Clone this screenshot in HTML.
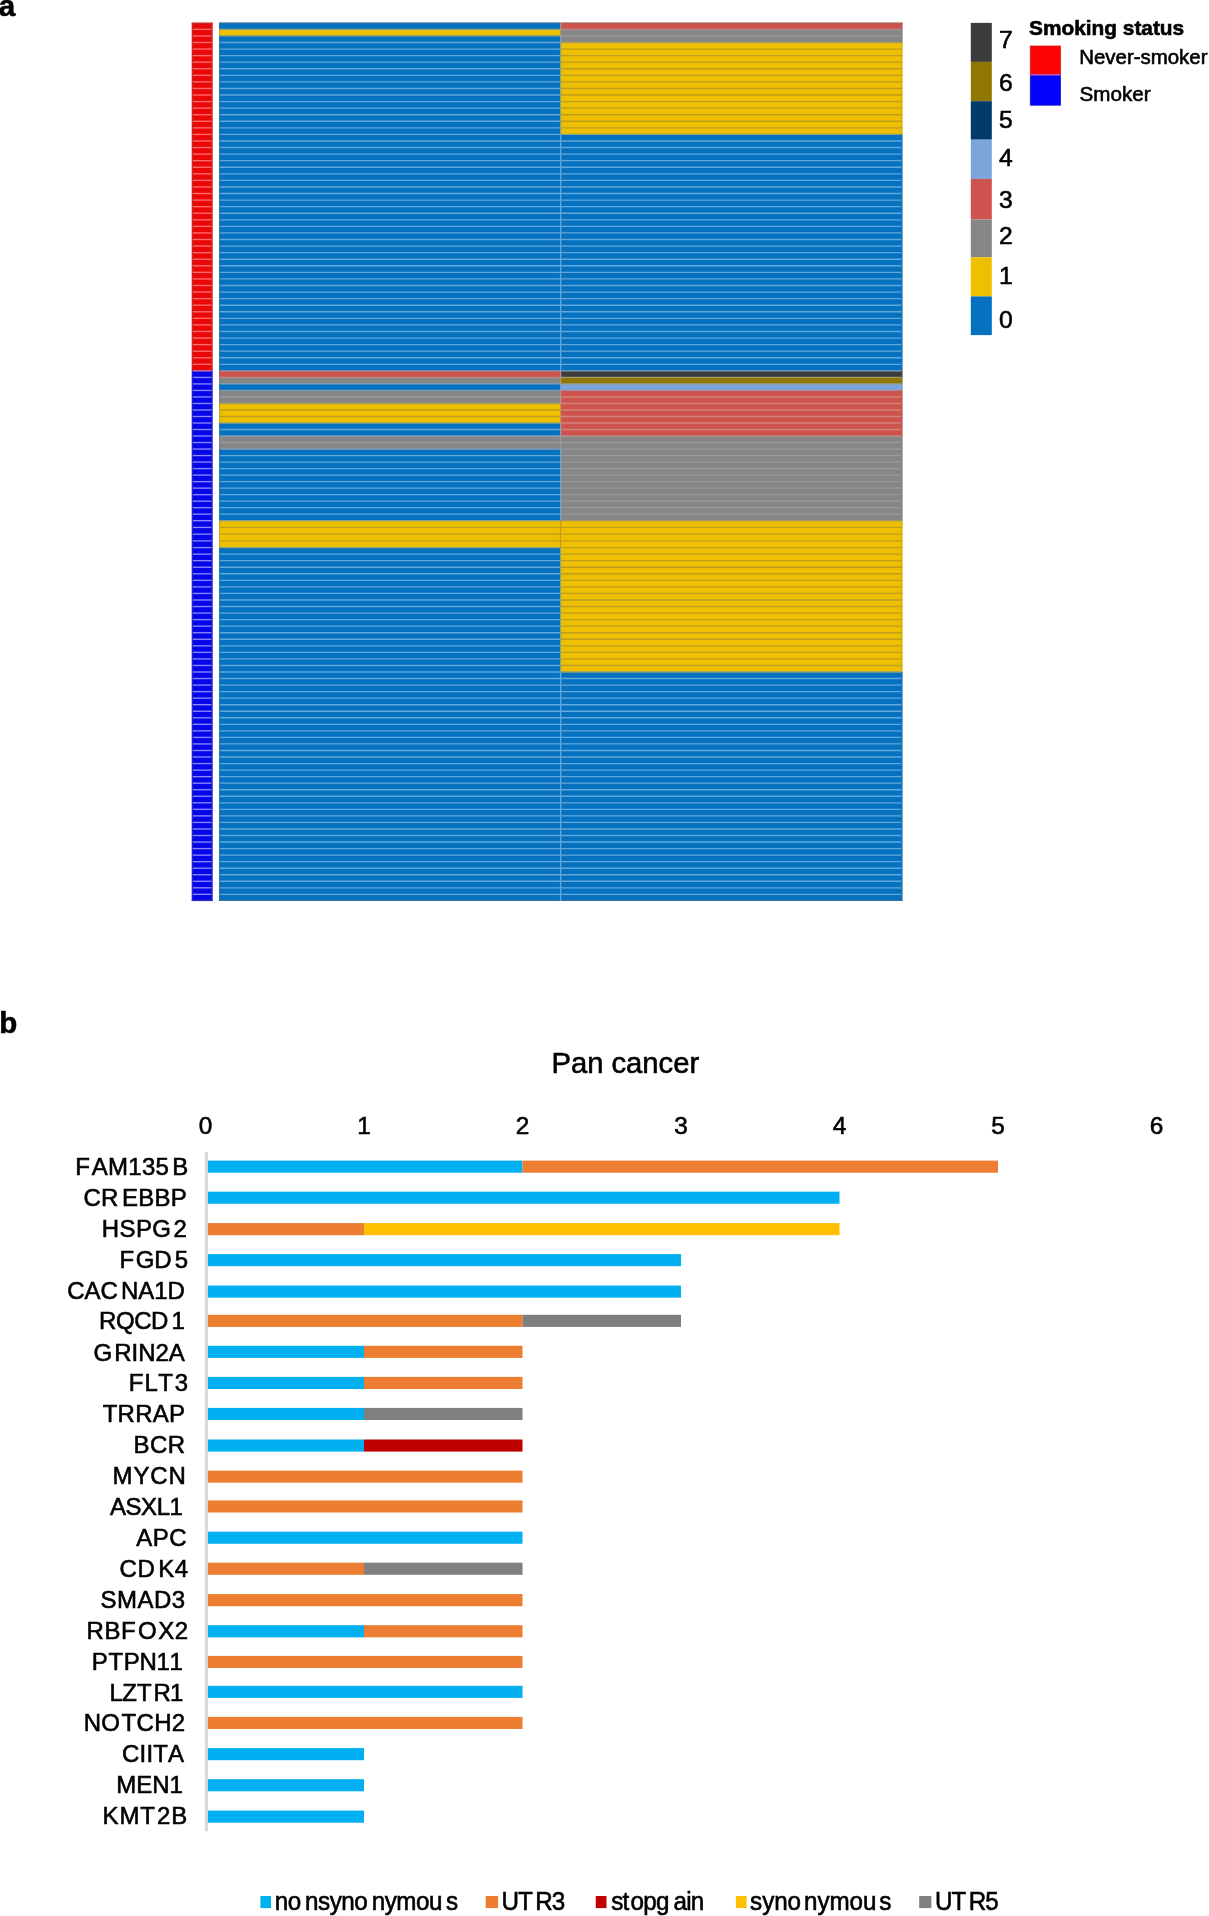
<!DOCTYPE html>
<html><head><meta charset="utf-8"><title>figure</title>
<style>
html,body{margin:0;padding:0;background:#fff;}
body{width:1209px;height:1916px;overflow:hidden;position:relative;}
svg{position:absolute;left:0;top:0;display:block;}
text{font-family:"Liberation Sans",sans-serif;fill:#000;font-kerning:none;stroke:#000;stroke-width:0.6px;}
#txt{filter:grayscale(1) blur(0.4px);}
#gfx{filter:blur(0.4px);}
</style></head>
<body>
<svg width="1209" height="1916" viewBox="0 0 1209 1916">
<rect x="0" y="0" width="1209" height="1916" fill="#ffffff"/>
<g id="gfx">
<rect x="191.80" y="22.80" width="20.70" height="348.10" fill="#EA0909"/>
<rect x="191.80" y="370.90" width="20.70" height="530.00" fill="#0606E6"/>
<rect x="219.10" y="22.80" width="341.50" height="6.56" fill="#0671BF"/>
<rect x="219.10" y="29.36" width="341.50" height="6.56" fill="#EFC000"/>
<rect x="219.10" y="35.93" width="341.50" height="334.97" fill="#0671BF"/>
<rect x="219.10" y="370.90" width="341.50" height="6.51" fill="#CD534C"/>
<rect x="219.10" y="377.41" width="341.50" height="6.51" fill="#868686"/>
<rect x="219.10" y="383.93" width="341.50" height="6.51" fill="#0671BF"/>
<rect x="219.10" y="390.44" width="341.50" height="13.03" fill="#868686"/>
<rect x="219.10" y="403.47" width="341.50" height="19.54" fill="#EFC000"/>
<rect x="219.10" y="423.00" width="341.50" height="13.03" fill="#0671BF"/>
<rect x="219.10" y="436.03" width="341.50" height="13.03" fill="#868686"/>
<rect x="219.10" y="449.06" width="341.50" height="71.64" fill="#0671BF"/>
<rect x="219.10" y="520.70" width="341.50" height="26.90" fill="#EFC000"/>
<rect x="219.10" y="547.60" width="341.50" height="353.30" fill="#0671BF"/>
<rect x="560.60" y="22.80" width="341.80" height="6.56" fill="#CD534C"/>
<rect x="560.60" y="29.36" width="341.80" height="13.13" fill="#868686"/>
<rect x="560.60" y="42.49" width="341.80" height="91.91" fill="#EFC000"/>
<rect x="560.60" y="134.40" width="341.80" height="236.50" fill="#0671BF"/>
<rect x="560.60" y="370.90" width="341.80" height="6.51" fill="#3B3B3B"/>
<rect x="560.60" y="377.41" width="341.80" height="6.51" fill="#8F7700"/>
<rect x="560.60" y="383.93" width="341.80" height="6.51" fill="#7AA6DC"/>
<rect x="560.60" y="390.44" width="341.80" height="45.59" fill="#CD534C"/>
<rect x="560.60" y="436.03" width="341.80" height="84.67" fill="#868686"/>
<rect x="560.60" y="520.70" width="341.80" height="151.30" fill="#EFC000"/>
<rect x="560.60" y="672.00" width="341.80" height="228.90" fill="#0671BF"/>
<line x1="191.80" y1="23.35" x2="212.50" y2="23.35" stroke="#c42b2b" stroke-width="1.4850000000000003"/>
<line x1="191.80" y1="29.36" x2="212.50" y2="29.36" stroke="#ff6c6c" stroke-width="1.35"/>
<line x1="191.80" y1="35.93" x2="212.50" y2="35.93" stroke="#ff6c6c" stroke-width="1.35"/>
<line x1="191.80" y1="42.49" x2="212.50" y2="42.49" stroke="#ff6c6c" stroke-width="1.35"/>
<line x1="191.80" y1="49.06" x2="212.50" y2="49.06" stroke="#ff6c6c" stroke-width="1.35"/>
<line x1="191.80" y1="55.62" x2="212.50" y2="55.62" stroke="#ff6c6c" stroke-width="1.35"/>
<line x1="191.80" y1="62.19" x2="212.50" y2="62.19" stroke="#ff6c6c" stroke-width="1.35"/>
<line x1="191.80" y1="68.75" x2="212.50" y2="68.75" stroke="#ff6c6c" stroke-width="1.35"/>
<line x1="191.80" y1="75.32" x2="212.50" y2="75.32" stroke="#ff6c6c" stroke-width="1.35"/>
<line x1="191.80" y1="81.88" x2="212.50" y2="81.88" stroke="#ff6c6c" stroke-width="1.35"/>
<line x1="191.80" y1="88.45" x2="212.50" y2="88.45" stroke="#ff6c6c" stroke-width="1.35"/>
<line x1="191.80" y1="95.01" x2="212.50" y2="95.01" stroke="#ff6c6c" stroke-width="1.35"/>
<line x1="191.80" y1="101.58" x2="212.50" y2="101.58" stroke="#ff6c6c" stroke-width="1.35"/>
<line x1="191.80" y1="108.14" x2="212.50" y2="108.14" stroke="#ff6c6c" stroke-width="1.35"/>
<line x1="191.80" y1="114.71" x2="212.50" y2="114.71" stroke="#ff6c6c" stroke-width="1.35"/>
<line x1="191.80" y1="121.27" x2="212.50" y2="121.27" stroke="#ff6c6c" stroke-width="1.35"/>
<line x1="191.80" y1="127.84" x2="212.50" y2="127.84" stroke="#ff6c6c" stroke-width="1.35"/>
<line x1="191.80" y1="134.40" x2="212.50" y2="134.40" stroke="#ff6c6c" stroke-width="1.35"/>
<line x1="191.80" y1="140.97" x2="212.50" y2="140.97" stroke="#ff6c6c" stroke-width="1.35"/>
<line x1="191.80" y1="147.54" x2="212.50" y2="147.54" stroke="#ff6c6c" stroke-width="1.35"/>
<line x1="191.80" y1="154.11" x2="212.50" y2="154.11" stroke="#ff6c6c" stroke-width="1.35"/>
<line x1="191.80" y1="160.68" x2="212.50" y2="160.68" stroke="#ff6c6c" stroke-width="1.35"/>
<line x1="191.80" y1="167.25" x2="212.50" y2="167.25" stroke="#ff6c6c" stroke-width="1.35"/>
<line x1="191.80" y1="173.82" x2="212.50" y2="173.82" stroke="#ff6c6c" stroke-width="1.35"/>
<line x1="191.80" y1="180.39" x2="212.50" y2="180.39" stroke="#ff6c6c" stroke-width="1.35"/>
<line x1="191.80" y1="186.96" x2="212.50" y2="186.96" stroke="#ff6c6c" stroke-width="1.35"/>
<line x1="191.80" y1="193.52" x2="212.50" y2="193.52" stroke="#ff6c6c" stroke-width="1.35"/>
<line x1="191.80" y1="200.09" x2="212.50" y2="200.09" stroke="#ff6c6c" stroke-width="1.35"/>
<line x1="191.80" y1="206.66" x2="212.50" y2="206.66" stroke="#ff6c6c" stroke-width="1.35"/>
<line x1="191.80" y1="213.23" x2="212.50" y2="213.23" stroke="#ff6c6c" stroke-width="1.35"/>
<line x1="191.80" y1="219.80" x2="212.50" y2="219.80" stroke="#ff6c6c" stroke-width="1.35"/>
<line x1="191.80" y1="226.37" x2="212.50" y2="226.37" stroke="#ff6c6c" stroke-width="1.35"/>
<line x1="191.80" y1="232.94" x2="212.50" y2="232.94" stroke="#ff6c6c" stroke-width="1.35"/>
<line x1="191.80" y1="239.51" x2="212.50" y2="239.51" stroke="#ff6c6c" stroke-width="1.35"/>
<line x1="191.80" y1="246.08" x2="212.50" y2="246.08" stroke="#ff6c6c" stroke-width="1.35"/>
<line x1="191.80" y1="252.65" x2="212.50" y2="252.65" stroke="#ff6c6c" stroke-width="1.35"/>
<line x1="191.80" y1="259.22" x2="212.50" y2="259.22" stroke="#ff6c6c" stroke-width="1.35"/>
<line x1="191.80" y1="265.79" x2="212.50" y2="265.79" stroke="#ff6c6c" stroke-width="1.35"/>
<line x1="191.80" y1="272.36" x2="212.50" y2="272.36" stroke="#ff6c6c" stroke-width="1.35"/>
<line x1="191.80" y1="278.93" x2="212.50" y2="278.93" stroke="#ff6c6c" stroke-width="1.35"/>
<line x1="191.80" y1="285.50" x2="212.50" y2="285.50" stroke="#ff6c6c" stroke-width="1.35"/>
<line x1="191.80" y1="292.07" x2="212.50" y2="292.07" stroke="#ff6c6c" stroke-width="1.35"/>
<line x1="191.80" y1="298.64" x2="212.50" y2="298.64" stroke="#ff6c6c" stroke-width="1.35"/>
<line x1="191.80" y1="305.21" x2="212.50" y2="305.21" stroke="#ff6c6c" stroke-width="1.35"/>
<line x1="191.80" y1="311.77" x2="212.50" y2="311.77" stroke="#ff6c6c" stroke-width="1.35"/>
<line x1="191.80" y1="318.34" x2="212.50" y2="318.34" stroke="#ff6c6c" stroke-width="1.35"/>
<line x1="191.80" y1="324.91" x2="212.50" y2="324.91" stroke="#ff6c6c" stroke-width="1.35"/>
<line x1="191.80" y1="331.48" x2="212.50" y2="331.48" stroke="#ff6c6c" stroke-width="1.35"/>
<line x1="191.80" y1="338.05" x2="212.50" y2="338.05" stroke="#ff6c6c" stroke-width="1.35"/>
<line x1="191.80" y1="344.62" x2="212.50" y2="344.62" stroke="#ff6c6c" stroke-width="1.35"/>
<line x1="191.80" y1="351.19" x2="212.50" y2="351.19" stroke="#ff6c6c" stroke-width="1.35"/>
<line x1="191.80" y1="357.76" x2="212.50" y2="357.76" stroke="#ff6c6c" stroke-width="1.35"/>
<line x1="191.80" y1="364.33" x2="212.50" y2="364.33" stroke="#ff6c6c" stroke-width="1.35"/>
<line x1="191.80" y1="370.90" x2="212.50" y2="370.90" stroke="#c57ac5" stroke-width="1.35"/>
<line x1="191.80" y1="377.41" x2="212.50" y2="377.41" stroke="#8888ff" stroke-width="1.35"/>
<line x1="191.80" y1="383.93" x2="212.50" y2="383.93" stroke="#8888ff" stroke-width="1.35"/>
<line x1="191.80" y1="390.44" x2="212.50" y2="390.44" stroke="#8888ff" stroke-width="1.35"/>
<line x1="191.80" y1="396.95" x2="212.50" y2="396.95" stroke="#8888ff" stroke-width="1.35"/>
<line x1="191.80" y1="403.47" x2="212.50" y2="403.47" stroke="#8888ff" stroke-width="1.35"/>
<line x1="191.80" y1="409.98" x2="212.50" y2="409.98" stroke="#8888ff" stroke-width="1.35"/>
<line x1="191.80" y1="416.49" x2="212.50" y2="416.49" stroke="#8888ff" stroke-width="1.35"/>
<line x1="191.80" y1="423.00" x2="212.50" y2="423.00" stroke="#8888ff" stroke-width="1.35"/>
<line x1="191.80" y1="429.52" x2="212.50" y2="429.52" stroke="#8888ff" stroke-width="1.35"/>
<line x1="191.80" y1="436.03" x2="212.50" y2="436.03" stroke="#8888ff" stroke-width="1.35"/>
<line x1="191.80" y1="442.54" x2="212.50" y2="442.54" stroke="#8888ff" stroke-width="1.35"/>
<line x1="191.80" y1="449.06" x2="212.50" y2="449.06" stroke="#8888ff" stroke-width="1.35"/>
<line x1="191.80" y1="455.57" x2="212.50" y2="455.57" stroke="#8888ff" stroke-width="1.35"/>
<line x1="191.80" y1="462.08" x2="212.50" y2="462.08" stroke="#8888ff" stroke-width="1.35"/>
<line x1="191.80" y1="468.60" x2="212.50" y2="468.60" stroke="#8888ff" stroke-width="1.35"/>
<line x1="191.80" y1="475.11" x2="212.50" y2="475.11" stroke="#8888ff" stroke-width="1.35"/>
<line x1="191.80" y1="481.62" x2="212.50" y2="481.62" stroke="#8888ff" stroke-width="1.35"/>
<line x1="191.80" y1="488.13" x2="212.50" y2="488.13" stroke="#8888ff" stroke-width="1.35"/>
<line x1="191.80" y1="494.65" x2="212.50" y2="494.65" stroke="#8888ff" stroke-width="1.35"/>
<line x1="191.80" y1="501.16" x2="212.50" y2="501.16" stroke="#8888ff" stroke-width="1.35"/>
<line x1="191.80" y1="507.67" x2="212.50" y2="507.67" stroke="#8888ff" stroke-width="1.35"/>
<line x1="191.80" y1="514.19" x2="212.50" y2="514.19" stroke="#8888ff" stroke-width="1.35"/>
<line x1="191.80" y1="520.70" x2="212.50" y2="520.70" stroke="#8888ff" stroke-width="1.35"/>
<line x1="191.80" y1="527.43" x2="212.50" y2="527.43" stroke="#8888ff" stroke-width="1.35"/>
<line x1="191.80" y1="534.15" x2="212.50" y2="534.15" stroke="#8888ff" stroke-width="1.35"/>
<line x1="191.80" y1="540.88" x2="212.50" y2="540.88" stroke="#8888ff" stroke-width="1.35"/>
<line x1="191.80" y1="547.60" x2="212.50" y2="547.60" stroke="#8888ff" stroke-width="1.35"/>
<line x1="191.80" y1="554.15" x2="212.50" y2="554.15" stroke="#8888ff" stroke-width="1.35"/>
<line x1="191.80" y1="560.69" x2="212.50" y2="560.69" stroke="#8888ff" stroke-width="1.35"/>
<line x1="191.80" y1="567.24" x2="212.50" y2="567.24" stroke="#8888ff" stroke-width="1.35"/>
<line x1="191.80" y1="573.79" x2="212.50" y2="573.79" stroke="#8888ff" stroke-width="1.35"/>
<line x1="191.80" y1="580.34" x2="212.50" y2="580.34" stroke="#8888ff" stroke-width="1.35"/>
<line x1="191.80" y1="586.88" x2="212.50" y2="586.88" stroke="#8888ff" stroke-width="1.35"/>
<line x1="191.80" y1="593.43" x2="212.50" y2="593.43" stroke="#8888ff" stroke-width="1.35"/>
<line x1="191.80" y1="599.98" x2="212.50" y2="599.98" stroke="#8888ff" stroke-width="1.35"/>
<line x1="191.80" y1="606.53" x2="212.50" y2="606.53" stroke="#8888ff" stroke-width="1.35"/>
<line x1="191.80" y1="613.07" x2="212.50" y2="613.07" stroke="#8888ff" stroke-width="1.35"/>
<line x1="191.80" y1="619.62" x2="212.50" y2="619.62" stroke="#8888ff" stroke-width="1.35"/>
<line x1="191.80" y1="626.17" x2="212.50" y2="626.17" stroke="#8888ff" stroke-width="1.35"/>
<line x1="191.80" y1="632.72" x2="212.50" y2="632.72" stroke="#8888ff" stroke-width="1.35"/>
<line x1="191.80" y1="639.26" x2="212.50" y2="639.26" stroke="#8888ff" stroke-width="1.35"/>
<line x1="191.80" y1="645.81" x2="212.50" y2="645.81" stroke="#8888ff" stroke-width="1.35"/>
<line x1="191.80" y1="652.36" x2="212.50" y2="652.36" stroke="#8888ff" stroke-width="1.35"/>
<line x1="191.80" y1="658.91" x2="212.50" y2="658.91" stroke="#8888ff" stroke-width="1.35"/>
<line x1="191.80" y1="665.45" x2="212.50" y2="665.45" stroke="#8888ff" stroke-width="1.35"/>
<line x1="191.80" y1="672.00" x2="212.50" y2="672.00" stroke="#8888ff" stroke-width="1.35"/>
<line x1="191.80" y1="678.54" x2="212.50" y2="678.54" stroke="#8888ff" stroke-width="1.35"/>
<line x1="191.80" y1="685.08" x2="212.50" y2="685.08" stroke="#8888ff" stroke-width="1.35"/>
<line x1="191.80" y1="691.62" x2="212.50" y2="691.62" stroke="#8888ff" stroke-width="1.35"/>
<line x1="191.80" y1="698.16" x2="212.50" y2="698.16" stroke="#8888ff" stroke-width="1.35"/>
<line x1="191.80" y1="704.70" x2="212.50" y2="704.70" stroke="#8888ff" stroke-width="1.35"/>
<line x1="191.80" y1="711.24" x2="212.50" y2="711.24" stroke="#8888ff" stroke-width="1.35"/>
<line x1="191.80" y1="717.78" x2="212.50" y2="717.78" stroke="#8888ff" stroke-width="1.35"/>
<line x1="191.80" y1="724.32" x2="212.50" y2="724.32" stroke="#8888ff" stroke-width="1.35"/>
<line x1="191.80" y1="730.86" x2="212.50" y2="730.86" stroke="#8888ff" stroke-width="1.35"/>
<line x1="191.80" y1="737.40" x2="212.50" y2="737.40" stroke="#8888ff" stroke-width="1.35"/>
<line x1="191.80" y1="743.94" x2="212.50" y2="743.94" stroke="#8888ff" stroke-width="1.35"/>
<line x1="191.80" y1="750.48" x2="212.50" y2="750.48" stroke="#8888ff" stroke-width="1.35"/>
<line x1="191.80" y1="757.02" x2="212.50" y2="757.02" stroke="#8888ff" stroke-width="1.35"/>
<line x1="191.80" y1="763.56" x2="212.50" y2="763.56" stroke="#8888ff" stroke-width="1.35"/>
<line x1="191.80" y1="770.10" x2="212.50" y2="770.10" stroke="#8888ff" stroke-width="1.35"/>
<line x1="191.80" y1="776.64" x2="212.50" y2="776.64" stroke="#8888ff" stroke-width="1.35"/>
<line x1="191.80" y1="783.18" x2="212.50" y2="783.18" stroke="#8888ff" stroke-width="1.35"/>
<line x1="191.80" y1="789.72" x2="212.50" y2="789.72" stroke="#8888ff" stroke-width="1.35"/>
<line x1="191.80" y1="796.26" x2="212.50" y2="796.26" stroke="#8888ff" stroke-width="1.35"/>
<line x1="191.80" y1="802.80" x2="212.50" y2="802.80" stroke="#8888ff" stroke-width="1.35"/>
<line x1="191.80" y1="809.34" x2="212.50" y2="809.34" stroke="#8888ff" stroke-width="1.35"/>
<line x1="191.80" y1="815.88" x2="212.50" y2="815.88" stroke="#8888ff" stroke-width="1.35"/>
<line x1="191.80" y1="822.42" x2="212.50" y2="822.42" stroke="#8888ff" stroke-width="1.35"/>
<line x1="191.80" y1="828.96" x2="212.50" y2="828.96" stroke="#8888ff" stroke-width="1.35"/>
<line x1="191.80" y1="835.50" x2="212.50" y2="835.50" stroke="#8888ff" stroke-width="1.35"/>
<line x1="191.80" y1="842.04" x2="212.50" y2="842.04" stroke="#8888ff" stroke-width="1.35"/>
<line x1="191.80" y1="848.58" x2="212.50" y2="848.58" stroke="#8888ff" stroke-width="1.35"/>
<line x1="191.80" y1="855.12" x2="212.50" y2="855.12" stroke="#8888ff" stroke-width="1.35"/>
<line x1="191.80" y1="861.66" x2="212.50" y2="861.66" stroke="#8888ff" stroke-width="1.35"/>
<line x1="191.80" y1="868.20" x2="212.50" y2="868.20" stroke="#8888ff" stroke-width="1.35"/>
<line x1="191.80" y1="874.74" x2="212.50" y2="874.74" stroke="#8888ff" stroke-width="1.35"/>
<line x1="191.80" y1="881.28" x2="212.50" y2="881.28" stroke="#8888ff" stroke-width="1.35"/>
<line x1="191.80" y1="887.82" x2="212.50" y2="887.82" stroke="#8888ff" stroke-width="1.35"/>
<line x1="191.80" y1="894.36" x2="212.50" y2="894.36" stroke="#8888ff" stroke-width="1.35"/>
<line x1="191.80" y1="900.35" x2="212.50" y2="900.35" stroke="#2929c1" stroke-width="1.4850000000000003"/>
<line x1="219.10" y1="23.35" x2="560.60" y2="23.35" stroke="#2972a7" stroke-width="1.4850000000000003"/>
<line x1="219.10" y1="29.36" x2="560.60" y2="29.36" stroke="#8fa37d" stroke-width="1.35"/>
<line x1="219.10" y1="35.93" x2="560.60" y2="35.93" stroke="#8fa37d" stroke-width="1.35"/>
<line x1="219.10" y1="42.49" x2="560.60" y2="42.49" stroke="#61a8dd" stroke-width="1.35"/>
<line x1="219.10" y1="49.06" x2="560.60" y2="49.06" stroke="#61a8dd" stroke-width="1.35"/>
<line x1="219.10" y1="55.62" x2="560.60" y2="55.62" stroke="#61a8dd" stroke-width="1.35"/>
<line x1="219.10" y1="62.19" x2="560.60" y2="62.19" stroke="#61a8dd" stroke-width="1.35"/>
<line x1="219.10" y1="68.75" x2="560.60" y2="68.75" stroke="#61a8dd" stroke-width="1.35"/>
<line x1="219.10" y1="75.32" x2="560.60" y2="75.32" stroke="#61a8dd" stroke-width="1.35"/>
<line x1="219.10" y1="81.88" x2="560.60" y2="81.88" stroke="#61a8dd" stroke-width="1.35"/>
<line x1="219.10" y1="88.45" x2="560.60" y2="88.45" stroke="#61a8dd" stroke-width="1.35"/>
<line x1="219.10" y1="95.01" x2="560.60" y2="95.01" stroke="#61a8dd" stroke-width="1.35"/>
<line x1="219.10" y1="101.58" x2="560.60" y2="101.58" stroke="#61a8dd" stroke-width="1.35"/>
<line x1="219.10" y1="108.14" x2="560.60" y2="108.14" stroke="#61a8dd" stroke-width="1.35"/>
<line x1="219.10" y1="114.71" x2="560.60" y2="114.71" stroke="#61a8dd" stroke-width="1.35"/>
<line x1="219.10" y1="121.27" x2="560.60" y2="121.27" stroke="#61a8dd" stroke-width="1.35"/>
<line x1="219.10" y1="127.84" x2="560.60" y2="127.84" stroke="#61a8dd" stroke-width="1.35"/>
<line x1="219.10" y1="134.40" x2="560.60" y2="134.40" stroke="#61a8dd" stroke-width="1.35"/>
<line x1="219.10" y1="140.97" x2="560.60" y2="140.97" stroke="#61a8dd" stroke-width="1.35"/>
<line x1="219.10" y1="147.54" x2="560.60" y2="147.54" stroke="#61a8dd" stroke-width="1.35"/>
<line x1="219.10" y1="154.11" x2="560.60" y2="154.11" stroke="#61a8dd" stroke-width="1.35"/>
<line x1="219.10" y1="160.68" x2="560.60" y2="160.68" stroke="#61a8dd" stroke-width="1.35"/>
<line x1="219.10" y1="167.25" x2="560.60" y2="167.25" stroke="#61a8dd" stroke-width="1.35"/>
<line x1="219.10" y1="173.82" x2="560.60" y2="173.82" stroke="#61a8dd" stroke-width="1.35"/>
<line x1="219.10" y1="180.39" x2="560.60" y2="180.39" stroke="#61a8dd" stroke-width="1.35"/>
<line x1="219.10" y1="186.96" x2="560.60" y2="186.96" stroke="#61a8dd" stroke-width="1.35"/>
<line x1="219.10" y1="193.52" x2="560.60" y2="193.52" stroke="#61a8dd" stroke-width="1.35"/>
<line x1="219.10" y1="200.09" x2="560.60" y2="200.09" stroke="#61a8dd" stroke-width="1.35"/>
<line x1="219.10" y1="206.66" x2="560.60" y2="206.66" stroke="#61a8dd" stroke-width="1.35"/>
<line x1="219.10" y1="213.23" x2="560.60" y2="213.23" stroke="#61a8dd" stroke-width="1.35"/>
<line x1="219.10" y1="219.80" x2="560.60" y2="219.80" stroke="#61a8dd" stroke-width="1.35"/>
<line x1="219.10" y1="226.37" x2="560.60" y2="226.37" stroke="#61a8dd" stroke-width="1.35"/>
<line x1="219.10" y1="232.94" x2="560.60" y2="232.94" stroke="#61a8dd" stroke-width="1.35"/>
<line x1="219.10" y1="239.51" x2="560.60" y2="239.51" stroke="#61a8dd" stroke-width="1.35"/>
<line x1="219.10" y1="246.08" x2="560.60" y2="246.08" stroke="#61a8dd" stroke-width="1.35"/>
<line x1="219.10" y1="252.65" x2="560.60" y2="252.65" stroke="#61a8dd" stroke-width="1.35"/>
<line x1="219.10" y1="259.22" x2="560.60" y2="259.22" stroke="#61a8dd" stroke-width="1.35"/>
<line x1="219.10" y1="265.79" x2="560.60" y2="265.79" stroke="#61a8dd" stroke-width="1.35"/>
<line x1="219.10" y1="272.36" x2="560.60" y2="272.36" stroke="#61a8dd" stroke-width="1.35"/>
<line x1="219.10" y1="278.93" x2="560.60" y2="278.93" stroke="#61a8dd" stroke-width="1.35"/>
<line x1="219.10" y1="285.50" x2="560.60" y2="285.50" stroke="#61a8dd" stroke-width="1.35"/>
<line x1="219.10" y1="292.07" x2="560.60" y2="292.07" stroke="#61a8dd" stroke-width="1.35"/>
<line x1="219.10" y1="298.64" x2="560.60" y2="298.64" stroke="#61a8dd" stroke-width="1.35"/>
<line x1="219.10" y1="305.21" x2="560.60" y2="305.21" stroke="#61a8dd" stroke-width="1.35"/>
<line x1="219.10" y1="311.77" x2="560.60" y2="311.77" stroke="#61a8dd" stroke-width="1.35"/>
<line x1="219.10" y1="318.34" x2="560.60" y2="318.34" stroke="#61a8dd" stroke-width="1.35"/>
<line x1="219.10" y1="324.91" x2="560.60" y2="324.91" stroke="#61a8dd" stroke-width="1.35"/>
<line x1="219.10" y1="331.48" x2="560.60" y2="331.48" stroke="#61a8dd" stroke-width="1.35"/>
<line x1="219.10" y1="338.05" x2="560.60" y2="338.05" stroke="#61a8dd" stroke-width="1.35"/>
<line x1="219.10" y1="344.62" x2="560.60" y2="344.62" stroke="#61a8dd" stroke-width="1.35"/>
<line x1="219.10" y1="351.19" x2="560.60" y2="351.19" stroke="#61a8dd" stroke-width="1.35"/>
<line x1="219.10" y1="357.76" x2="560.60" y2="357.76" stroke="#61a8dd" stroke-width="1.35"/>
<line x1="219.10" y1="364.33" x2="560.60" y2="364.33" stroke="#61a8dd" stroke-width="1.35"/>
<line x1="219.10" y1="370.90" x2="560.60" y2="370.90" stroke="#9a95ad" stroke-width="1.35"/>
<line x1="219.10" y1="377.41" x2="560.60" y2="377.41" stroke="#b68d8b" stroke-width="1.35"/>
<line x1="219.10" y1="383.93" x2="560.60" y2="383.93" stroke="#7da1bb" stroke-width="1.35"/>
<line x1="219.10" y1="390.44" x2="560.60" y2="390.44" stroke="#7da1bb" stroke-width="1.35"/>
<line x1="219.10" y1="396.95" x2="560.60" y2="396.95" stroke="#999999" stroke-width="1.35"/>
<line x1="219.10" y1="403.47" x2="560.60" y2="403.47" stroke="#ab9c5b" stroke-width="1.35"/>
<line x1="219.10" y1="409.98" x2="560.60" y2="409.98" stroke="#be9e1e" stroke-width="1.35"/>
<line x1="219.10" y1="416.49" x2="560.60" y2="416.49" stroke="#be9e1e" stroke-width="1.35"/>
<line x1="219.10" y1="423.00" x2="560.60" y2="423.00" stroke="#8fa37d" stroke-width="1.35"/>
<line x1="219.10" y1="429.52" x2="560.60" y2="429.52" stroke="#61a8dd" stroke-width="1.35"/>
<line x1="219.10" y1="436.03" x2="560.60" y2="436.03" stroke="#7da1bb" stroke-width="1.35"/>
<line x1="219.10" y1="442.54" x2="560.60" y2="442.54" stroke="#999999" stroke-width="1.35"/>
<line x1="219.10" y1="449.06" x2="560.60" y2="449.06" stroke="#7da1bb" stroke-width="1.35"/>
<line x1="219.10" y1="455.57" x2="560.60" y2="455.57" stroke="#61a8dd" stroke-width="1.35"/>
<line x1="219.10" y1="462.08" x2="560.60" y2="462.08" stroke="#61a8dd" stroke-width="1.35"/>
<line x1="219.10" y1="468.60" x2="560.60" y2="468.60" stroke="#61a8dd" stroke-width="1.35"/>
<line x1="219.10" y1="475.11" x2="560.60" y2="475.11" stroke="#61a8dd" stroke-width="1.35"/>
<line x1="219.10" y1="481.62" x2="560.60" y2="481.62" stroke="#61a8dd" stroke-width="1.35"/>
<line x1="219.10" y1="488.13" x2="560.60" y2="488.13" stroke="#61a8dd" stroke-width="1.35"/>
<line x1="219.10" y1="494.65" x2="560.60" y2="494.65" stroke="#61a8dd" stroke-width="1.35"/>
<line x1="219.10" y1="501.16" x2="560.60" y2="501.16" stroke="#61a8dd" stroke-width="1.35"/>
<line x1="219.10" y1="507.67" x2="560.60" y2="507.67" stroke="#61a8dd" stroke-width="1.35"/>
<line x1="219.10" y1="514.19" x2="560.60" y2="514.19" stroke="#61a8dd" stroke-width="1.35"/>
<line x1="219.10" y1="520.70" x2="560.60" y2="520.70" stroke="#8fa37d" stroke-width="1.35"/>
<line x1="219.10" y1="527.43" x2="560.60" y2="527.43" stroke="#be9e1e" stroke-width="1.35"/>
<line x1="219.10" y1="534.15" x2="560.60" y2="534.15" stroke="#be9e1e" stroke-width="1.35"/>
<line x1="219.10" y1="540.88" x2="560.60" y2="540.88" stroke="#be9e1e" stroke-width="1.35"/>
<line x1="219.10" y1="547.60" x2="560.60" y2="547.60" stroke="#8fa37d" stroke-width="1.35"/>
<line x1="219.10" y1="554.15" x2="560.60" y2="554.15" stroke="#61a8dd" stroke-width="1.35"/>
<line x1="219.10" y1="560.69" x2="560.60" y2="560.69" stroke="#61a8dd" stroke-width="1.35"/>
<line x1="219.10" y1="567.24" x2="560.60" y2="567.24" stroke="#61a8dd" stroke-width="1.35"/>
<line x1="219.10" y1="573.79" x2="560.60" y2="573.79" stroke="#61a8dd" stroke-width="1.35"/>
<line x1="219.10" y1="580.34" x2="560.60" y2="580.34" stroke="#61a8dd" stroke-width="1.35"/>
<line x1="219.10" y1="586.88" x2="560.60" y2="586.88" stroke="#61a8dd" stroke-width="1.35"/>
<line x1="219.10" y1="593.43" x2="560.60" y2="593.43" stroke="#61a8dd" stroke-width="1.35"/>
<line x1="219.10" y1="599.98" x2="560.60" y2="599.98" stroke="#61a8dd" stroke-width="1.35"/>
<line x1="219.10" y1="606.53" x2="560.60" y2="606.53" stroke="#61a8dd" stroke-width="1.35"/>
<line x1="219.10" y1="613.07" x2="560.60" y2="613.07" stroke="#61a8dd" stroke-width="1.35"/>
<line x1="219.10" y1="619.62" x2="560.60" y2="619.62" stroke="#61a8dd" stroke-width="1.35"/>
<line x1="219.10" y1="626.17" x2="560.60" y2="626.17" stroke="#61a8dd" stroke-width="1.35"/>
<line x1="219.10" y1="632.72" x2="560.60" y2="632.72" stroke="#61a8dd" stroke-width="1.35"/>
<line x1="219.10" y1="639.26" x2="560.60" y2="639.26" stroke="#61a8dd" stroke-width="1.35"/>
<line x1="219.10" y1="645.81" x2="560.60" y2="645.81" stroke="#61a8dd" stroke-width="1.35"/>
<line x1="219.10" y1="652.36" x2="560.60" y2="652.36" stroke="#61a8dd" stroke-width="1.35"/>
<line x1="219.10" y1="658.91" x2="560.60" y2="658.91" stroke="#61a8dd" stroke-width="1.35"/>
<line x1="219.10" y1="665.45" x2="560.60" y2="665.45" stroke="#61a8dd" stroke-width="1.35"/>
<line x1="219.10" y1="672.00" x2="560.60" y2="672.00" stroke="#61a8dd" stroke-width="1.35"/>
<line x1="219.10" y1="678.54" x2="560.60" y2="678.54" stroke="#61a8dd" stroke-width="1.35"/>
<line x1="219.10" y1="685.08" x2="560.60" y2="685.08" stroke="#61a8dd" stroke-width="1.35"/>
<line x1="219.10" y1="691.62" x2="560.60" y2="691.62" stroke="#61a8dd" stroke-width="1.35"/>
<line x1="219.10" y1="698.16" x2="560.60" y2="698.16" stroke="#61a8dd" stroke-width="1.35"/>
<line x1="219.10" y1="704.70" x2="560.60" y2="704.70" stroke="#61a8dd" stroke-width="1.35"/>
<line x1="219.10" y1="711.24" x2="560.60" y2="711.24" stroke="#61a8dd" stroke-width="1.35"/>
<line x1="219.10" y1="717.78" x2="560.60" y2="717.78" stroke="#61a8dd" stroke-width="1.35"/>
<line x1="219.10" y1="724.32" x2="560.60" y2="724.32" stroke="#61a8dd" stroke-width="1.35"/>
<line x1="219.10" y1="730.86" x2="560.60" y2="730.86" stroke="#61a8dd" stroke-width="1.35"/>
<line x1="219.10" y1="737.40" x2="560.60" y2="737.40" stroke="#61a8dd" stroke-width="1.35"/>
<line x1="219.10" y1="743.94" x2="560.60" y2="743.94" stroke="#61a8dd" stroke-width="1.35"/>
<line x1="219.10" y1="750.48" x2="560.60" y2="750.48" stroke="#61a8dd" stroke-width="1.35"/>
<line x1="219.10" y1="757.02" x2="560.60" y2="757.02" stroke="#61a8dd" stroke-width="1.35"/>
<line x1="219.10" y1="763.56" x2="560.60" y2="763.56" stroke="#61a8dd" stroke-width="1.35"/>
<line x1="219.10" y1="770.10" x2="560.60" y2="770.10" stroke="#61a8dd" stroke-width="1.35"/>
<line x1="219.10" y1="776.64" x2="560.60" y2="776.64" stroke="#61a8dd" stroke-width="1.35"/>
<line x1="219.10" y1="783.18" x2="560.60" y2="783.18" stroke="#61a8dd" stroke-width="1.35"/>
<line x1="219.10" y1="789.72" x2="560.60" y2="789.72" stroke="#61a8dd" stroke-width="1.35"/>
<line x1="219.10" y1="796.26" x2="560.60" y2="796.26" stroke="#61a8dd" stroke-width="1.35"/>
<line x1="219.10" y1="802.80" x2="560.60" y2="802.80" stroke="#61a8dd" stroke-width="1.35"/>
<line x1="219.10" y1="809.34" x2="560.60" y2="809.34" stroke="#61a8dd" stroke-width="1.35"/>
<line x1="219.10" y1="815.88" x2="560.60" y2="815.88" stroke="#61a8dd" stroke-width="1.35"/>
<line x1="219.10" y1="822.42" x2="560.60" y2="822.42" stroke="#61a8dd" stroke-width="1.35"/>
<line x1="219.10" y1="828.96" x2="560.60" y2="828.96" stroke="#61a8dd" stroke-width="1.35"/>
<line x1="219.10" y1="835.50" x2="560.60" y2="835.50" stroke="#61a8dd" stroke-width="1.35"/>
<line x1="219.10" y1="842.04" x2="560.60" y2="842.04" stroke="#61a8dd" stroke-width="1.35"/>
<line x1="219.10" y1="848.58" x2="560.60" y2="848.58" stroke="#61a8dd" stroke-width="1.35"/>
<line x1="219.10" y1="855.12" x2="560.60" y2="855.12" stroke="#61a8dd" stroke-width="1.35"/>
<line x1="219.10" y1="861.66" x2="560.60" y2="861.66" stroke="#61a8dd" stroke-width="1.35"/>
<line x1="219.10" y1="868.20" x2="560.60" y2="868.20" stroke="#61a8dd" stroke-width="1.35"/>
<line x1="219.10" y1="874.74" x2="560.60" y2="874.74" stroke="#61a8dd" stroke-width="1.35"/>
<line x1="219.10" y1="881.28" x2="560.60" y2="881.28" stroke="#61a8dd" stroke-width="1.35"/>
<line x1="219.10" y1="887.82" x2="560.60" y2="887.82" stroke="#61a8dd" stroke-width="1.35"/>
<line x1="219.10" y1="894.36" x2="560.60" y2="894.36" stroke="#61a8dd" stroke-width="1.35"/>
<line x1="219.10" y1="900.35" x2="560.60" y2="900.35" stroke="#2972a7" stroke-width="1.4850000000000003"/>
<line x1="560.60" y1="23.35" x2="902.40" y2="23.35" stroke="#b05d58" stroke-width="1.4850000000000003"/>
<line x1="560.60" y1="29.36" x2="902.40" y2="29.36" stroke="#b68d8b" stroke-width="1.35"/>
<line x1="560.60" y1="35.93" x2="902.40" y2="35.93" stroke="#999999" stroke-width="1.35"/>
<line x1="560.60" y1="42.49" x2="902.40" y2="42.49" stroke="#ab9c5b" stroke-width="1.35"/>
<line x1="560.60" y1="49.06" x2="902.40" y2="49.06" stroke="#be9e1e" stroke-width="1.35"/>
<line x1="560.60" y1="55.62" x2="902.40" y2="55.62" stroke="#be9e1e" stroke-width="1.35"/>
<line x1="560.60" y1="62.19" x2="902.40" y2="62.19" stroke="#be9e1e" stroke-width="1.35"/>
<line x1="560.60" y1="68.75" x2="902.40" y2="68.75" stroke="#be9e1e" stroke-width="1.35"/>
<line x1="560.60" y1="75.32" x2="902.40" y2="75.32" stroke="#be9e1e" stroke-width="1.35"/>
<line x1="560.60" y1="81.88" x2="902.40" y2="81.88" stroke="#be9e1e" stroke-width="1.35"/>
<line x1="560.60" y1="88.45" x2="902.40" y2="88.45" stroke="#be9e1e" stroke-width="1.35"/>
<line x1="560.60" y1="95.01" x2="902.40" y2="95.01" stroke="#be9e1e" stroke-width="1.35"/>
<line x1="560.60" y1="101.58" x2="902.40" y2="101.58" stroke="#be9e1e" stroke-width="1.35"/>
<line x1="560.60" y1="108.14" x2="902.40" y2="108.14" stroke="#be9e1e" stroke-width="1.35"/>
<line x1="560.60" y1="114.71" x2="902.40" y2="114.71" stroke="#be9e1e" stroke-width="1.35"/>
<line x1="560.60" y1="121.27" x2="902.40" y2="121.27" stroke="#be9e1e" stroke-width="1.35"/>
<line x1="560.60" y1="127.84" x2="902.40" y2="127.84" stroke="#be9e1e" stroke-width="1.35"/>
<line x1="560.60" y1="134.40" x2="902.40" y2="134.40" stroke="#8fa37d" stroke-width="1.35"/>
<line x1="560.60" y1="140.97" x2="902.40" y2="140.97" stroke="#61a8dd" stroke-width="1.35"/>
<line x1="560.60" y1="147.54" x2="902.40" y2="147.54" stroke="#61a8dd" stroke-width="1.35"/>
<line x1="560.60" y1="154.11" x2="902.40" y2="154.11" stroke="#61a8dd" stroke-width="1.35"/>
<line x1="560.60" y1="160.68" x2="902.40" y2="160.68" stroke="#61a8dd" stroke-width="1.35"/>
<line x1="560.60" y1="167.25" x2="902.40" y2="167.25" stroke="#61a8dd" stroke-width="1.35"/>
<line x1="560.60" y1="173.82" x2="902.40" y2="173.82" stroke="#61a8dd" stroke-width="1.35"/>
<line x1="560.60" y1="180.39" x2="902.40" y2="180.39" stroke="#61a8dd" stroke-width="1.35"/>
<line x1="560.60" y1="186.96" x2="902.40" y2="186.96" stroke="#61a8dd" stroke-width="1.35"/>
<line x1="560.60" y1="193.52" x2="902.40" y2="193.52" stroke="#61a8dd" stroke-width="1.35"/>
<line x1="560.60" y1="200.09" x2="902.40" y2="200.09" stroke="#61a8dd" stroke-width="1.35"/>
<line x1="560.60" y1="206.66" x2="902.40" y2="206.66" stroke="#61a8dd" stroke-width="1.35"/>
<line x1="560.60" y1="213.23" x2="902.40" y2="213.23" stroke="#61a8dd" stroke-width="1.35"/>
<line x1="560.60" y1="219.80" x2="902.40" y2="219.80" stroke="#61a8dd" stroke-width="1.35"/>
<line x1="560.60" y1="226.37" x2="902.40" y2="226.37" stroke="#61a8dd" stroke-width="1.35"/>
<line x1="560.60" y1="232.94" x2="902.40" y2="232.94" stroke="#61a8dd" stroke-width="1.35"/>
<line x1="560.60" y1="239.51" x2="902.40" y2="239.51" stroke="#61a8dd" stroke-width="1.35"/>
<line x1="560.60" y1="246.08" x2="902.40" y2="246.08" stroke="#61a8dd" stroke-width="1.35"/>
<line x1="560.60" y1="252.65" x2="902.40" y2="252.65" stroke="#61a8dd" stroke-width="1.35"/>
<line x1="560.60" y1="259.22" x2="902.40" y2="259.22" stroke="#61a8dd" stroke-width="1.35"/>
<line x1="560.60" y1="265.79" x2="902.40" y2="265.79" stroke="#61a8dd" stroke-width="1.35"/>
<line x1="560.60" y1="272.36" x2="902.40" y2="272.36" stroke="#61a8dd" stroke-width="1.35"/>
<line x1="560.60" y1="278.93" x2="902.40" y2="278.93" stroke="#61a8dd" stroke-width="1.35"/>
<line x1="560.60" y1="285.50" x2="902.40" y2="285.50" stroke="#61a8dd" stroke-width="1.35"/>
<line x1="560.60" y1="292.07" x2="902.40" y2="292.07" stroke="#61a8dd" stroke-width="1.35"/>
<line x1="560.60" y1="298.64" x2="902.40" y2="298.64" stroke="#61a8dd" stroke-width="1.35"/>
<line x1="560.60" y1="305.21" x2="902.40" y2="305.21" stroke="#61a8dd" stroke-width="1.35"/>
<line x1="560.60" y1="311.77" x2="902.40" y2="311.77" stroke="#61a8dd" stroke-width="1.35"/>
<line x1="560.60" y1="318.34" x2="902.40" y2="318.34" stroke="#61a8dd" stroke-width="1.35"/>
<line x1="560.60" y1="324.91" x2="902.40" y2="324.91" stroke="#61a8dd" stroke-width="1.35"/>
<line x1="560.60" y1="331.48" x2="902.40" y2="331.48" stroke="#61a8dd" stroke-width="1.35"/>
<line x1="560.60" y1="338.05" x2="902.40" y2="338.05" stroke="#61a8dd" stroke-width="1.35"/>
<line x1="560.60" y1="344.62" x2="902.40" y2="344.62" stroke="#61a8dd" stroke-width="1.35"/>
<line x1="560.60" y1="351.19" x2="902.40" y2="351.19" stroke="#61a8dd" stroke-width="1.35"/>
<line x1="560.60" y1="357.76" x2="902.40" y2="357.76" stroke="#61a8dd" stroke-width="1.35"/>
<line x1="560.60" y1="364.33" x2="902.40" y2="364.33" stroke="#61a8dd" stroke-width="1.35"/>
<line x1="560.60" y1="370.90" x2="902.40" y2="370.90" stroke="#7da1bb" stroke-width="1.35"/>
<line x1="560.60" y1="377.41" x2="902.40" y2="377.41" stroke="#a39b73" stroke-width="1.35"/>
<line x1="560.60" y1="383.93" x2="902.40" y2="383.93" stroke="#979d88" stroke-width="1.35"/>
<line x1="560.60" y1="390.44" x2="902.40" y2="390.44" stroke="#aa8f9f" stroke-width="1.35"/>
<line x1="560.60" y1="396.95" x2="902.40" y2="396.95" stroke="#d3817c" stroke-width="1.35"/>
<line x1="560.60" y1="403.47" x2="902.40" y2="403.47" stroke="#d3817c" stroke-width="1.35"/>
<line x1="560.60" y1="409.98" x2="902.40" y2="409.98" stroke="#d3817c" stroke-width="1.35"/>
<line x1="560.60" y1="416.49" x2="902.40" y2="416.49" stroke="#d3817c" stroke-width="1.35"/>
<line x1="560.60" y1="423.00" x2="902.40" y2="423.00" stroke="#d3817c" stroke-width="1.35"/>
<line x1="560.60" y1="429.52" x2="902.40" y2="429.52" stroke="#d3817c" stroke-width="1.35"/>
<line x1="560.60" y1="436.03" x2="902.40" y2="436.03" stroke="#b68d8b" stroke-width="1.35"/>
<line x1="560.60" y1="442.54" x2="902.40" y2="442.54" stroke="#999999" stroke-width="1.35"/>
<line x1="560.60" y1="449.06" x2="902.40" y2="449.06" stroke="#999999" stroke-width="1.35"/>
<line x1="560.60" y1="455.57" x2="902.40" y2="455.57" stroke="#999999" stroke-width="1.35"/>
<line x1="560.60" y1="462.08" x2="902.40" y2="462.08" stroke="#999999" stroke-width="1.35"/>
<line x1="560.60" y1="468.60" x2="902.40" y2="468.60" stroke="#999999" stroke-width="1.35"/>
<line x1="560.60" y1="475.11" x2="902.40" y2="475.11" stroke="#999999" stroke-width="1.35"/>
<line x1="560.60" y1="481.62" x2="902.40" y2="481.62" stroke="#999999" stroke-width="1.35"/>
<line x1="560.60" y1="488.13" x2="902.40" y2="488.13" stroke="#999999" stroke-width="1.35"/>
<line x1="560.60" y1="494.65" x2="902.40" y2="494.65" stroke="#999999" stroke-width="1.35"/>
<line x1="560.60" y1="501.16" x2="902.40" y2="501.16" stroke="#999999" stroke-width="1.35"/>
<line x1="560.60" y1="507.67" x2="902.40" y2="507.67" stroke="#999999" stroke-width="1.35"/>
<line x1="560.60" y1="514.19" x2="902.40" y2="514.19" stroke="#999999" stroke-width="1.35"/>
<line x1="560.60" y1="520.70" x2="902.40" y2="520.70" stroke="#ab9c5b" stroke-width="1.35"/>
<line x1="560.60" y1="527.43" x2="902.40" y2="527.43" stroke="#be9e1e" stroke-width="1.35"/>
<line x1="560.60" y1="534.15" x2="902.40" y2="534.15" stroke="#be9e1e" stroke-width="1.35"/>
<line x1="560.60" y1="540.88" x2="902.40" y2="540.88" stroke="#be9e1e" stroke-width="1.35"/>
<line x1="560.60" y1="547.60" x2="902.40" y2="547.60" stroke="#be9e1e" stroke-width="1.35"/>
<line x1="560.60" y1="554.15" x2="902.40" y2="554.15" stroke="#be9e1e" stroke-width="1.35"/>
<line x1="560.60" y1="560.69" x2="902.40" y2="560.69" stroke="#be9e1e" stroke-width="1.35"/>
<line x1="560.60" y1="567.24" x2="902.40" y2="567.24" stroke="#be9e1e" stroke-width="1.35"/>
<line x1="560.60" y1="573.79" x2="902.40" y2="573.79" stroke="#be9e1e" stroke-width="1.35"/>
<line x1="560.60" y1="580.34" x2="902.40" y2="580.34" stroke="#be9e1e" stroke-width="1.35"/>
<line x1="560.60" y1="586.88" x2="902.40" y2="586.88" stroke="#be9e1e" stroke-width="1.35"/>
<line x1="560.60" y1="593.43" x2="902.40" y2="593.43" stroke="#be9e1e" stroke-width="1.35"/>
<line x1="560.60" y1="599.98" x2="902.40" y2="599.98" stroke="#be9e1e" stroke-width="1.35"/>
<line x1="560.60" y1="606.53" x2="902.40" y2="606.53" stroke="#be9e1e" stroke-width="1.35"/>
<line x1="560.60" y1="613.07" x2="902.40" y2="613.07" stroke="#be9e1e" stroke-width="1.35"/>
<line x1="560.60" y1="619.62" x2="902.40" y2="619.62" stroke="#be9e1e" stroke-width="1.35"/>
<line x1="560.60" y1="626.17" x2="902.40" y2="626.17" stroke="#be9e1e" stroke-width="1.35"/>
<line x1="560.60" y1="632.72" x2="902.40" y2="632.72" stroke="#be9e1e" stroke-width="1.35"/>
<line x1="560.60" y1="639.26" x2="902.40" y2="639.26" stroke="#be9e1e" stroke-width="1.35"/>
<line x1="560.60" y1="645.81" x2="902.40" y2="645.81" stroke="#be9e1e" stroke-width="1.35"/>
<line x1="560.60" y1="652.36" x2="902.40" y2="652.36" stroke="#be9e1e" stroke-width="1.35"/>
<line x1="560.60" y1="658.91" x2="902.40" y2="658.91" stroke="#be9e1e" stroke-width="1.35"/>
<line x1="560.60" y1="665.45" x2="902.40" y2="665.45" stroke="#be9e1e" stroke-width="1.35"/>
<line x1="560.60" y1="672.00" x2="902.40" y2="672.00" stroke="#8fa37d" stroke-width="1.35"/>
<line x1="560.60" y1="678.54" x2="902.40" y2="678.54" stroke="#61a8dd" stroke-width="1.35"/>
<line x1="560.60" y1="685.08" x2="902.40" y2="685.08" stroke="#61a8dd" stroke-width="1.35"/>
<line x1="560.60" y1="691.62" x2="902.40" y2="691.62" stroke="#61a8dd" stroke-width="1.35"/>
<line x1="560.60" y1="698.16" x2="902.40" y2="698.16" stroke="#61a8dd" stroke-width="1.35"/>
<line x1="560.60" y1="704.70" x2="902.40" y2="704.70" stroke="#61a8dd" stroke-width="1.35"/>
<line x1="560.60" y1="711.24" x2="902.40" y2="711.24" stroke="#61a8dd" stroke-width="1.35"/>
<line x1="560.60" y1="717.78" x2="902.40" y2="717.78" stroke="#61a8dd" stroke-width="1.35"/>
<line x1="560.60" y1="724.32" x2="902.40" y2="724.32" stroke="#61a8dd" stroke-width="1.35"/>
<line x1="560.60" y1="730.86" x2="902.40" y2="730.86" stroke="#61a8dd" stroke-width="1.35"/>
<line x1="560.60" y1="737.40" x2="902.40" y2="737.40" stroke="#61a8dd" stroke-width="1.35"/>
<line x1="560.60" y1="743.94" x2="902.40" y2="743.94" stroke="#61a8dd" stroke-width="1.35"/>
<line x1="560.60" y1="750.48" x2="902.40" y2="750.48" stroke="#61a8dd" stroke-width="1.35"/>
<line x1="560.60" y1="757.02" x2="902.40" y2="757.02" stroke="#61a8dd" stroke-width="1.35"/>
<line x1="560.60" y1="763.56" x2="902.40" y2="763.56" stroke="#61a8dd" stroke-width="1.35"/>
<line x1="560.60" y1="770.10" x2="902.40" y2="770.10" stroke="#61a8dd" stroke-width="1.35"/>
<line x1="560.60" y1="776.64" x2="902.40" y2="776.64" stroke="#61a8dd" stroke-width="1.35"/>
<line x1="560.60" y1="783.18" x2="902.40" y2="783.18" stroke="#61a8dd" stroke-width="1.35"/>
<line x1="560.60" y1="789.72" x2="902.40" y2="789.72" stroke="#61a8dd" stroke-width="1.35"/>
<line x1="560.60" y1="796.26" x2="902.40" y2="796.26" stroke="#61a8dd" stroke-width="1.35"/>
<line x1="560.60" y1="802.80" x2="902.40" y2="802.80" stroke="#61a8dd" stroke-width="1.35"/>
<line x1="560.60" y1="809.34" x2="902.40" y2="809.34" stroke="#61a8dd" stroke-width="1.35"/>
<line x1="560.60" y1="815.88" x2="902.40" y2="815.88" stroke="#61a8dd" stroke-width="1.35"/>
<line x1="560.60" y1="822.42" x2="902.40" y2="822.42" stroke="#61a8dd" stroke-width="1.35"/>
<line x1="560.60" y1="828.96" x2="902.40" y2="828.96" stroke="#61a8dd" stroke-width="1.35"/>
<line x1="560.60" y1="835.50" x2="902.40" y2="835.50" stroke="#61a8dd" stroke-width="1.35"/>
<line x1="560.60" y1="842.04" x2="902.40" y2="842.04" stroke="#61a8dd" stroke-width="1.35"/>
<line x1="560.60" y1="848.58" x2="902.40" y2="848.58" stroke="#61a8dd" stroke-width="1.35"/>
<line x1="560.60" y1="855.12" x2="902.40" y2="855.12" stroke="#61a8dd" stroke-width="1.35"/>
<line x1="560.60" y1="861.66" x2="902.40" y2="861.66" stroke="#61a8dd" stroke-width="1.35"/>
<line x1="560.60" y1="868.20" x2="902.40" y2="868.20" stroke="#61a8dd" stroke-width="1.35"/>
<line x1="560.60" y1="874.74" x2="902.40" y2="874.74" stroke="#61a8dd" stroke-width="1.35"/>
<line x1="560.60" y1="881.28" x2="902.40" y2="881.28" stroke="#61a8dd" stroke-width="1.35"/>
<line x1="560.60" y1="887.82" x2="902.40" y2="887.82" stroke="#61a8dd" stroke-width="1.35"/>
<line x1="560.60" y1="894.36" x2="902.40" y2="894.36" stroke="#61a8dd" stroke-width="1.35"/>
<line x1="560.60" y1="900.35" x2="902.40" y2="900.35" stroke="#2972a7" stroke-width="1.4850000000000003"/>
<line x1="219.70" y1="22.80" x2="219.70" y2="29.36" stroke="#2972a7" stroke-width="1.0"/>
<line x1="219.70" y1="29.36" x2="219.70" y2="35.93" stroke="#c7a725" stroke-width="1.0"/>
<line x1="219.70" y1="35.93" x2="219.70" y2="370.90" stroke="#2972a7" stroke-width="1.0"/>
<line x1="219.70" y1="370.90" x2="219.70" y2="377.41" stroke="#b05d58" stroke-width="1.0"/>
<line x1="219.70" y1="377.41" x2="219.70" y2="383.93" stroke="#808080" stroke-width="1.0"/>
<line x1="219.70" y1="383.93" x2="219.70" y2="390.44" stroke="#2972a7" stroke-width="1.0"/>
<line x1="219.70" y1="390.44" x2="219.70" y2="403.47" stroke="#808080" stroke-width="1.0"/>
<line x1="219.70" y1="403.47" x2="219.70" y2="423.00" stroke="#c7a725" stroke-width="1.0"/>
<line x1="219.70" y1="423.00" x2="219.70" y2="436.03" stroke="#2972a7" stroke-width="1.0"/>
<line x1="219.70" y1="436.03" x2="219.70" y2="449.06" stroke="#808080" stroke-width="1.0"/>
<line x1="219.70" y1="449.06" x2="219.70" y2="520.70" stroke="#2972a7" stroke-width="1.0"/>
<line x1="219.70" y1="520.70" x2="219.70" y2="547.60" stroke="#c7a725" stroke-width="1.0"/>
<line x1="219.70" y1="547.60" x2="219.70" y2="900.90" stroke="#2972a7" stroke-width="1.0"/>
<line x1="560.60" y1="22.80" x2="560.60" y2="29.36" stroke="#9a95ad" stroke-width="1.35"/>
<line x1="560.60" y1="29.36" x2="560.60" y2="35.93" stroke="#ab9c5b" stroke-width="1.35"/>
<line x1="560.60" y1="35.93" x2="560.60" y2="42.49" stroke="#7da1bb" stroke-width="1.35"/>
<line x1="560.60" y1="42.49" x2="560.60" y2="134.40" stroke="#8fa37d" stroke-width="1.35"/>
<line x1="560.60" y1="134.40" x2="560.60" y2="370.90" stroke="#61a8dd" stroke-width="1.35"/>
<line x1="560.60" y1="370.90" x2="560.60" y2="377.41" stroke="#b68d8b" stroke-width="1.35"/>
<line x1="560.60" y1="377.41" x2="560.60" y2="383.93" stroke="#a39b73" stroke-width="1.35"/>
<line x1="560.60" y1="383.93" x2="560.60" y2="390.44" stroke="#71a3cf" stroke-width="1.35"/>
<line x1="560.60" y1="390.44" x2="560.60" y2="403.47" stroke="#b68d8b" stroke-width="1.35"/>
<line x1="560.60" y1="403.47" x2="560.60" y2="423.00" stroke="#c8904d" stroke-width="1.35"/>
<line x1="560.60" y1="423.00" x2="560.60" y2="436.03" stroke="#9a95ad" stroke-width="1.35"/>
<line x1="560.60" y1="436.03" x2="560.60" y2="449.06" stroke="#999999" stroke-width="1.35"/>
<line x1="560.60" y1="449.06" x2="560.60" y2="520.70" stroke="#7da1bb" stroke-width="1.35"/>
<line x1="560.60" y1="520.70" x2="560.60" y2="547.60" stroke="#be9e1e" stroke-width="1.35"/>
<line x1="560.60" y1="547.60" x2="560.60" y2="672.00" stroke="#8fa37d" stroke-width="1.35"/>
<line x1="560.60" y1="672.00" x2="560.60" y2="900.90" stroke="#61a8dd" stroke-width="1.35"/>
<line x1="901.80" y1="22.80" x2="901.80" y2="29.36" stroke="#b05d58" stroke-width="1.0"/>
<line x1="901.80" y1="29.36" x2="901.80" y2="42.49" stroke="#808080" stroke-width="1.0"/>
<line x1="901.80" y1="42.49" x2="901.80" y2="134.40" stroke="#c7a725" stroke-width="1.0"/>
<line x1="901.80" y1="134.40" x2="901.80" y2="370.90" stroke="#2972a7" stroke-width="1.0"/>
<line x1="901.80" y1="370.90" x2="901.80" y2="377.41" stroke="#4d4d4d" stroke-width="1.0"/>
<line x1="901.80" y1="377.41" x2="901.80" y2="383.93" stroke="#867625" stroke-width="1.0"/>
<line x1="901.80" y1="383.93" x2="901.80" y2="390.44" stroke="#7896ba" stroke-width="1.0"/>
<line x1="901.80" y1="390.44" x2="901.80" y2="436.03" stroke="#b05d58" stroke-width="1.0"/>
<line x1="901.80" y1="436.03" x2="901.80" y2="520.70" stroke="#808080" stroke-width="1.0"/>
<line x1="901.80" y1="520.70" x2="901.80" y2="672.00" stroke="#c7a725" stroke-width="1.0"/>
<line x1="901.80" y1="672.00" x2="901.80" y2="900.90" stroke="#2972a7" stroke-width="1.0"/>
<line x1="192.40" y1="22.80" x2="192.40" y2="370.90" stroke="#c42b2b" stroke-width="1.0"/>
<line x1="192.40" y1="370.90" x2="192.40" y2="900.90" stroke="#2929c1" stroke-width="1.0"/>
<line x1="211.90" y1="22.80" x2="211.90" y2="370.90" stroke="#c42b2b" stroke-width="1.0"/>
<line x1="211.90" y1="370.90" x2="211.90" y2="900.90" stroke="#2929c1" stroke-width="1.0"/>
<rect x="970.80" y="22.90" width="21.00" height="39.00" fill="#3B3B3B"/>
<rect x="970.80" y="61.90" width="21.00" height="39.30" fill="#8F7700"/>
<rect x="970.80" y="101.20" width="21.00" height="38.50" fill="#003C67"/>
<rect x="970.80" y="139.70" width="21.00" height="39.20" fill="#7AA6DC"/>
<rect x="970.80" y="178.90" width="21.00" height="40.50" fill="#CD534C"/>
<rect x="970.80" y="219.40" width="21.00" height="37.80" fill="#868686"/>
<rect x="970.80" y="257.20" width="21.00" height="39.20" fill="#EFC000"/>
<rect x="970.80" y="296.40" width="21.00" height="38.70" fill="#0671BF"/>
<rect x="1030.30" y="46.00" width="30.20" height="28.90" fill="#FD0303" stroke="#d01a1a" stroke-width="0.8"/>
<rect x="1030.30" y="74.90" width="30.20" height="30.30" fill="#0303FD" stroke="#1a1ac8" stroke-width="0.8"/>
<line x1="1030.30" y1="74.90" x2="1060.50" y2="74.90" stroke="#e878b8" stroke-width="1.1"/>
<rect x="205.50" y="1160.60" width="317.00" height="12.10" fill="#00B0F0"/>
<rect x="522.50" y="1160.60" width="475.50" height="12.10" fill="#ED7D31"/>
<rect x="205.50" y="1191.65" width="634.00" height="12.10" fill="#00B0F0"/>
<rect x="205.50" y="1223.10" width="158.50" height="12.10" fill="#ED7D31"/>
<rect x="364.00" y="1223.10" width="475.50" height="12.10" fill="#FFC000"/>
<rect x="205.50" y="1254.10" width="475.50" height="12.10" fill="#00B0F0"/>
<rect x="205.50" y="1285.55" width="475.50" height="12.10" fill="#00B0F0"/>
<rect x="205.50" y="1314.80" width="317.00" height="12.10" fill="#ED7D31"/>
<rect x="522.50" y="1314.80" width="158.50" height="12.10" fill="#7F7F7F"/>
<rect x="205.50" y="1345.80" width="158.50" height="12.10" fill="#00B0F0"/>
<rect x="364.00" y="1345.80" width="158.50" height="12.10" fill="#ED7D31"/>
<rect x="205.50" y="1376.90" width="158.50" height="12.10" fill="#00B0F0"/>
<rect x="364.00" y="1376.90" width="158.50" height="12.10" fill="#ED7D31"/>
<rect x="205.50" y="1407.90" width="158.50" height="12.10" fill="#00B0F0"/>
<rect x="364.00" y="1407.90" width="158.50" height="12.10" fill="#7F7F7F"/>
<rect x="205.50" y="1439.50" width="158.50" height="12.10" fill="#00B0F0"/>
<rect x="364.00" y="1439.50" width="158.50" height="12.10" fill="#C00000"/>
<rect x="205.50" y="1470.60" width="317.00" height="12.10" fill="#ED7D31"/>
<rect x="205.50" y="1500.40" width="317.00" height="12.10" fill="#ED7D31"/>
<rect x="205.50" y="1531.65" width="317.00" height="12.10" fill="#00B0F0"/>
<rect x="205.50" y="1562.70" width="158.50" height="12.10" fill="#ED7D31"/>
<rect x="364.00" y="1562.70" width="158.50" height="12.10" fill="#7F7F7F"/>
<rect x="205.50" y="1594.10" width="317.00" height="12.10" fill="#ED7D31"/>
<rect x="205.50" y="1625.20" width="158.50" height="12.10" fill="#00B0F0"/>
<rect x="364.00" y="1625.20" width="158.50" height="12.10" fill="#ED7D31"/>
<rect x="205.50" y="1655.90" width="317.00" height="12.10" fill="#ED7D31"/>
<rect x="205.50" y="1685.80" width="317.00" height="12.10" fill="#00B0F0"/>
<rect x="205.50" y="1716.90" width="317.00" height="12.10" fill="#ED7D31"/>
<rect x="205.50" y="1748.10" width="158.50" height="12.10" fill="#00B0F0"/>
<rect x="205.50" y="1779.20" width="158.50" height="12.10" fill="#00B0F0"/>
<rect x="205.50" y="1810.60" width="158.50" height="12.10" fill="#00B0F0"/>
<rect x="204.80" y="1152.10" width="3.10" height="679.20" fill="#D9D9D9"/>
<rect x="260.40" y="1896.00" width="10.60" height="12.10" fill="#00B0F0"/>
<rect x="485.70" y="1896.00" width="12.40" height="12.10" fill="#ED7D31"/>
<rect x="595.75" y="1896.00" width="10.75" height="12.10" fill="#C00000"/>
<rect x="735.90" y="1896.00" width="10.60" height="12.10" fill="#FFC000"/>
<rect x="919.20" y="1896.00" width="12.20" height="12.10" fill="#7F7F7F"/>
</g>
<g id="txt">
<text x="999.00" y="47.80" font-size="24.7" text-anchor="start">7</text>
<text x="999.00" y="90.50" font-size="24.7" text-anchor="start">6</text>
<text x="999.00" y="128.40" font-size="24.7" text-anchor="start">5</text>
<text x="999.00" y="165.70" font-size="24.7" text-anchor="start">4</text>
<text x="999.00" y="207.70" font-size="24.7" text-anchor="start">3</text>
<text x="999.00" y="243.80" font-size="24.7" text-anchor="start">2</text>
<text x="999.00" y="284.30" font-size="24.7" text-anchor="start">1</text>
<text x="999.00" y="327.70" font-size="24.7" text-anchor="start">0</text>
<text x="1029.00" y="34.60" font-size="20.85" text-anchor="start" font-weight="bold">Smoking status</text>
<text x="1079.20" y="63.70" font-size="20.45" text-anchor="start">Never-smoker</text>
<text x="1079.60" y="100.50" font-size="20.6" text-anchor="start">Smoker</text>
<text x="-1.30" y="16.45" font-size="29.5" text-anchor="start" font-weight="bold" stroke="none">a</text>
<text x="-0.80" y="1033.10" font-size="29.5" text-anchor="start" font-weight="bold" stroke="none">b</text>
<text x="625.30" y="1072.60" font-size="29.2" text-anchor="middle">Pan cancer</text>
<text x="205.50" y="1133.50" font-size="24.4" text-anchor="middle">0</text>
<text x="364.00" y="1133.50" font-size="24.4" text-anchor="middle">1</text>
<text x="522.50" y="1133.50" font-size="24.4" text-anchor="middle">2</text>
<text x="681.00" y="1133.50" font-size="24.4" text-anchor="middle">3</text>
<text x="839.50" y="1133.50" font-size="24.4" text-anchor="middle">4</text>
<text x="998.00" y="1133.50" font-size="24.4" text-anchor="middle">5</text>
<text x="1156.50" y="1133.50" font-size="24.4" text-anchor="middle">6</text>
<text transform="scale(0.972,1)" x="77.50 94.42 111.18 132.05 146.08 160.10 177.21" y="1175.21" font-size="24.7">FAM135B</text>
<text transform="scale(0.972,1)" x="85.89 103.96 125.64 142.35 159.06 175.77" y="1206.25" font-size="24.7">CREBBP</text>
<text transform="scale(0.972,1)" x="104.76 123.01 139.89 156.77 178.45" y="1237.35" font-size="24.7">HSPG2</text>
<text transform="scale(0.972,1)" x="122.97 139.59 158.78 179.69" y="1268.35" font-size="24.7">FGD5</text>
<text transform="scale(0.972,1)" x="69.22 87.03 103.48 124.37 142.18 158.63 172.34" y="1298.85" font-size="24.7">CACNA1D</text>
<text transform="scale(0.972,1)" x="101.88 119.28 138.06 155.46 176.46" y="1329.25" font-size="24.7">RQCD1</text>
<text transform="scale(0.972,1)" x="96.19 117.45 135.28 142.14 159.97 173.70" y="1360.65" font-size="24.7">GRIN2A</text>
<text transform="scale(0.972,1)" x="132.34 148.76 162.80 179.74" y="1391.35" font-size="24.7">FLT3</text>
<text transform="scale(0.972,1)" x="105.72 121.02 139.08 157.13 173.82" y="1422.35" font-size="24.7">TRRAP</text>
<text transform="scale(0.972,1)" x="137.38 154.31 172.61" y="1453.45" font-size="24.7">BCR</text>
<text transform="scale(0.972,1)" x="115.77 137.29 154.70 173.48" y="1484.45" font-size="24.7">MYCN</text>
<text transform="scale(0.972,1)" x="113.12 129.15 145.18 161.21 174.51" y="1515.21" font-size="24.7">ASXL1</text>
<text transform="scale(0.972,1)" x="140.28 157.17 174.05" y="1546.25" font-size="24.7">APC</text>
<text transform="scale(0.972,1)" x="123.03 141.34 162.73 179.68" y="1577.35" font-size="24.7">CDK4</text>
<text transform="scale(0.972,1)" x="103.41 120.35 141.40 158.34 176.65" y="1608.35" font-size="24.7">SMAD3</text>
<text transform="scale(0.972,1)" x="88.92 107.42 124.56 141.85 162.75 179.89" y="1639.45" font-size="24.7">RBFOX2</text>
<text transform="scale(0.972,1)" x="94.48 111.65 127.44 143.59 161.10 174.51" y="1669.55" font-size="24.7">PTPN11</text>
<text transform="scale(0.972,1)" x="112.69 125.67 141.03 157.94 175.02" y="1700.65" font-size="24.7">LZTR1</text>
<text transform="scale(0.972,1)" x="86.04 104.26 124.89 140.36 158.58 176.81" y="1731.35" font-size="24.7">NOTCH2</text>
<text transform="scale(0.972,1)" x="125.60 143.59 150.61 157.63 172.87" y="1762.35" font-size="24.7">CIITA</text>
<text transform="scale(0.972,1)" x="119.68 140.24 156.69 174.51" y="1793.45" font-size="24.7">MEN1</text>
<text transform="scale(0.972,1)" x="105.59 122.86 144.23 161.65 176.19" y="1824.45" font-size="24.7">KMT2B</text>
<text transform="scale(0.95,1)" x="289.15 302.80 321.19 334.84 347.07 359.29 372.94 391.33 404.98 417.20 437.92 451.57 469.43" y="1910.00" font-size="25.5">nonsynonymous</text>
<text transform="scale(0.95,1)" x="527.93 545.28 563.48 580.83" y="1910.00" font-size="25.5">UTR3</text>
<text transform="scale(0.95,1)" x="643.40 655.34 663.73 677.11 690.49 708.92 722.30 727.16" y="1910.00" font-size="25.5">stopgain</text>
<text transform="scale(0.95,1)" x="789.61 802.26 814.91 828.99 846.44 860.53 873.18 894.32 908.40 925.43" y="1910.00" font-size="25.5">synonymous</text>
<text transform="scale(0.95,1)" x="984.35 1001.62 1019.73 1036.99" y="1910.00" font-size="25.5">UTR5</text>
</g>
</svg>
</body></html>
